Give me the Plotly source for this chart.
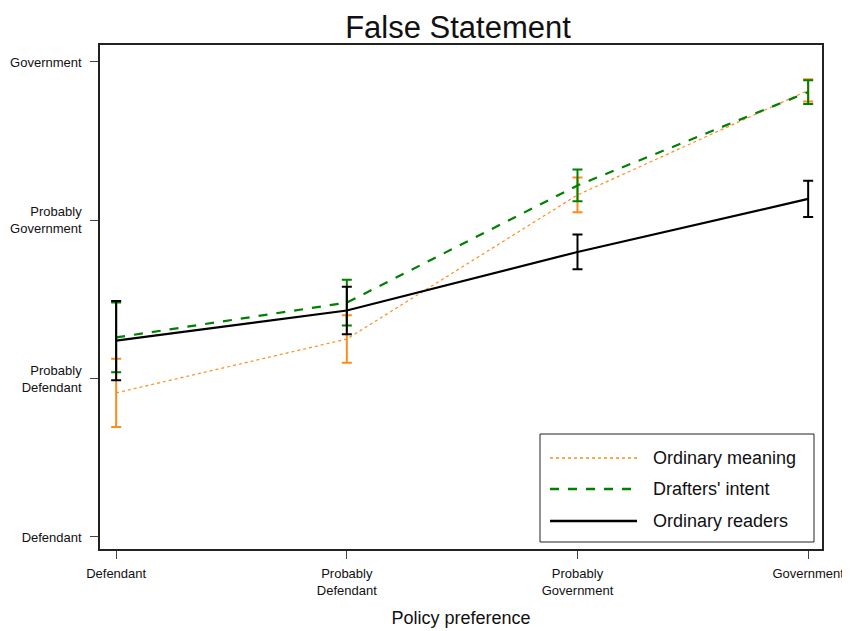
import plotly.graph_objects as go

# ---- data ----
x_levels = [1, 2, 3, 4]
x_labels = ["Defendant", "Probably<br>Defendant", "Probably<br>Government", "Government"]
y_levels = [1, 2, 3, 4]
y_labels = ["Defendant", "Probably<br>Defendant", "Probably<br>Government", "Government"]

series_names = ["Ordinary meaning", "Drafters' intent", "Ordinary readers"]
ordinary_meaning = [1.91, 2.25, 3.16, 3.82]
ordinary_meaning_err = [0.215, 0.15, 0.11, 0.07]
drafters_intent = [2.26, 2.48, 3.22, 3.81]
drafters_intent_err = [0.22, 0.145, 0.10, 0.075]
ordinary_readers = [2.24, 2.43, 2.80, 3.135]
ordinary_readers_err = [0.25, 0.15, 0.11, 0.115]

colors = ["#FF8C1A", "#008000", "#000000"]
dashes = ["dot", "dash", "solid"]
widths = [1.2, 2.2, 2.2]

W, H = 842, 623
L, T, R, B = 92, 37, 814, 541  # plot area edges in figure pixels
PW, PH = R - L, B - T


def px(xp):
    return (xp - 8 - L) / PW


def py(yp):
    return (B - (yp - 8)) / PH


fig = go.Figure()
for name, ys, err, c, d, w in zip(series_names,
                                  [ordinary_meaning, drafters_intent, ordinary_readers],
                                  [ordinary_meaning_err, drafters_intent_err, ordinary_readers_err],
                                  colors, dashes, widths):
    fig.add_trace(go.Scatter(
        x=x_levels, y=ys, mode="lines", name=name,
        line=dict(color=c, dash=d, width=w),
        error_y=dict(type="data", array=err, visible=True, color=c, thickness=2, width=5),
        showlegend=False,
    ))

# manual legend (layout decoration)
leg_y = [458, 489, 521]
for name, c, d, w, yy in zip(series_names, colors, dashes, widths, leg_y):
    fig.add_shape(type="line", xref="paper", yref="paper",
                  x0=px(550), x1=px(637), y0=py(yy), y1=py(yy),
                  line=dict(color=c, dash=d, width=w + 0.3))
    fig.add_annotation(xref="paper", yref="paper", x=px(651), y=py(yy),
                       text=name, showarrow=False, xanchor="left", yanchor="middle",
                       font=dict(size=18, color="#111111"))
fig.add_shape(type="rect", xref="paper", yref="paper",
              x0=px(540), x1=px(814), y0=py(542), y1=py(434),
              line=dict(color="#222222", width=1), fillcolor="rgba(0,0,0,0)")

fig.update_layout(
    width=W, height=H,
    margin=dict(l=L, r=W - R, t=T, b=H - B),
    paper_bgcolor="white", plot_bgcolor="white",
    font=dict(family="Liberation Sans, Arial, sans-serif", color="#111111"),
    title=dict(text="False Statement", x=(458 - 8) / W, xanchor="center",
               y=1 - (27 - 8) / H, yanchor="middle", font=dict(size=31, color="#111111")),
)
fig.update_xaxes(
    range=[0.93, 4.06], tickvals=x_levels, ticktext=x_labels,
    showgrid=False, zeroline=False, automargin=False,
    showline=True, linecolor="#222222", linewidth=1.5, mirror=True,
    ticks="outside", ticklen=8, tickcolor="#444444", tickfont=dict(size=13),
    ticklabelstandoff=4,
    title=dict(text="Policy preference", font=dict(size=18), standoff=14),
)
fig.update_yaxes(
    range=[0.924, 4.107], tickvals=y_levels, ticktext=y_labels,
    showgrid=False, zeroline=False, automargin=False,
    showline=True, linecolor="#222222", linewidth=1.5, mirror=True,
    ticks="outside", ticklen=8, tickcolor="#444444", tickfont=dict(size=13),
    ticklabelstandoff=6,
)

fig.write_html("out.html")
